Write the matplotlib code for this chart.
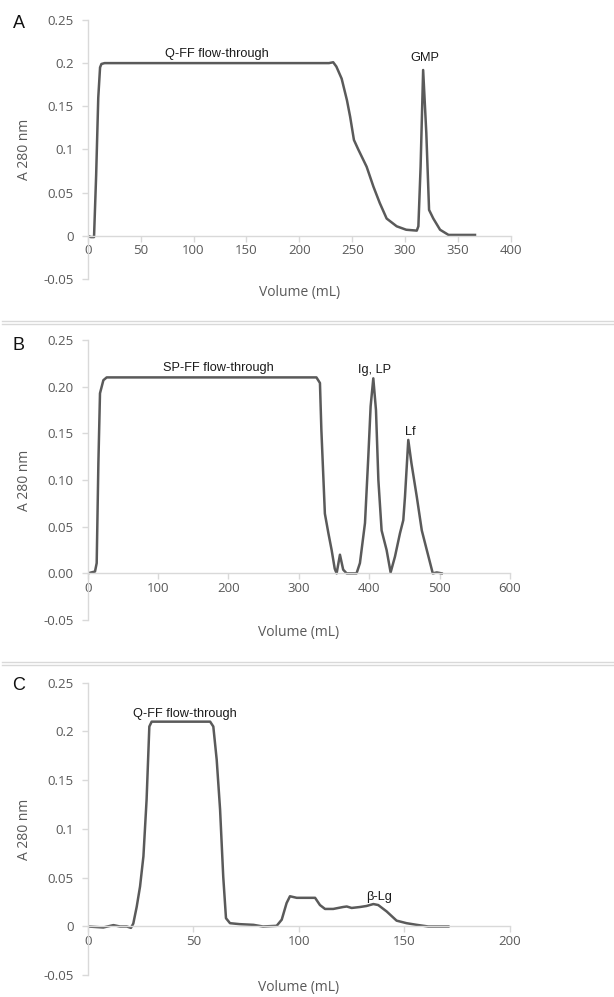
import matplotlib.pyplot as plt
from matplotlib.lines import Line2D

# panel A - Q-FF run
vol_a = [0, 3, 6, 8, 10, 11.7, 13, 16, 100, 200, 228, 232, 235, 240, 245, 248, 251.6,
         255.7, 263.6, 270, 276, 282.5, 292, 301, 311, 312.5, 314.6, 317, 320,
         322.6, 326.6, 333, 341, 366]
abs_a = [0, -0.0015, -0.0015, 0.07, 0.16, 0.195, 0.199, 0.2, 0.2, 0.2, 0.2, 0.201,
         0.196, 0.182, 0.157, 0.138, 0.111, 0.1, 0.08, 0.057, 0.038, 0.02, 0.011,
         0.007, 0.006, 0.011, 0.08, 0.192, 0.119, 0.03, 0.02, 0.007, 0.001, 0.001]

# panel B - SP-FF run
vol_b = [0, 10.4, 12.8, 15.2, 17.5, 22.3, 27, 325, 330, 332, 335, 337, 342, 346.6,
         351, 353.7, 358.4, 363, 367.9, 382, 386.8, 394, 398.7, 402, 405.8, 409.6,
         413, 417.6, 424.7, 430.4, 436.6, 443.7, 448.4, 450.8, 455.5, 460, 467.6,
         474.7, 481.8, 490.3, 496, 503]
abs_b = [0, 0.002, 0.011, 0.118, 0.193, 0.207, 0.21, 0.21, 0.204, 0.154, 0.1, 0.064,
         0.043, 0.025, 0.005, 0, 0.02, 0.004, 0, 0, 0.011, 0.054, 0.125, 0.179,
         0.209, 0.175, 0.1, 0.046, 0.025, 0.001, 0.018, 0.043, 0.057, 0.082, 0.143,
         0.118, 0.082, 0.046, 0.025, 0, 0.001, 0]

# panel C - Q-FF run (second column)
vol_c = [0, 7.4, 12.2, 15.3, 18.5, 20.5, 21.6, 23.2, 24.8, 26.4, 27.9, 29.2, 30.3, 58,
         59.5, 61.1, 62.7, 64.2, 65.5, 67.4, 72, 78.5, 83, 89.5, 91.9, 94.2, 95.8, 99,
         107.7, 110, 112.4, 116.3, 121, 122.7, 125, 129, 132, 135.3, 137.6, 141.6,
         146.3, 151, 155.8, 161.3, 170.8]
abs_c = [0, -0.001, 0.0014, 0, 0, -0.0014, 0.003, 0.02, 0.041, 0.072, 0.13, 0.205,
         0.21, 0.21, 0.205, 0.171, 0.12, 0.051, 0.0085, 0.0034, 0.0024, 0.0017, 0,
         0.0007, 0.007, 0.024, 0.031, 0.0294, 0.0294, 0.022, 0.018, 0.018, 0.02,
         0.0205, 0.019, 0.02, 0.021, 0.023, 0.022, 0.0154, 0.006, 0.0034, 0.0017, 0, 0]

panels = [
    dict(letter='A', x=vol_a, y=abs_a, xmax=400, xstep=50, yfmt='{:g}',
         rect=[0.1428, 0.7202, 0.6894, 0.2598], xlab_y=-0.054, lety=23,
         notes=[('Q-FF flow-through', 122, 0.210), ('GMP', 319, 0.2057)]),
    dict(letter='B', x=vol_b, y=abs_b, xmax=600, xstep=100, yfmt='{:.2f}',
         rect=[0.1428, 0.3781, 0.6878, 0.2808], xlab_y=-0.046, lety=345,
         notes=[('SP-FF flow-through', 185, 0.2203), ('Ig, LP', 407, 0.2178),
                ('Lf', 458, 0.1517)]),
    dict(letter='C', x=vol_c, y=abs_c, xmax=200, xstep=50, yfmt='{:g}',
         rect=[0.1428, 0.0218, 0.6878, 0.2935], xlab_y=-0.043, lety=685,
         notes=[('Q-FF flow-through', 46.2, 0.218), ('β-Lg', 138, 0.030)]),
]

yticks = [-0.05, 0, 0.05, 0.1, 0.15, 0.2, 0.25]
axis_grey = '#d9d9d9'
text_grey = '#595959'
tick_font = 'Open Sans'

fig = plt.figure(figsize=(6.14, 9.97), dpi=100)

for p in panels:
    ax = fig.add_axes(p['rect'])
    ax.plot(p['x'], p['y'], color='#5a5a5a', lw=1.8, solid_joinstyle='round')
    ax.set_xlim(0, p['xmax'])
    ax.set_ylim(-0.05, 0.25)
    ax.set_xticks(range(0, p['xmax'] + 1, p['xstep']))
    ax.set_yticks(yticks)
    ax.set_yticklabels([p['yfmt'].format(v) for v in yticks])
    for s in ['top', 'right']:
        ax.spines[s].set_visible(False)
    ax.spines['bottom'].set_position(('data', 0))
    for s in ['left', 'bottom']:
        ax.spines[s].set_color(axis_grey)
        ax.spines[s].set_linewidth(1.0)
    ax.tick_params(colors=axis_grey, labelcolor=text_grey, length=4, width=1.0,
                   labelsize=9.5)
    ax.tick_params(axis='y', pad=6)
    ax.tick_params(axis='x', pad=2)
    for lab in ax.get_xticklabels() + ax.get_yticklabels():
        lab.set_family(tick_font)
    ax.set_ylabel('A 280 nm', color=text_grey, fontsize=10, family=tick_font)
    ax.yaxis.set_label_coords(-0.132, 0.5)
    ax.set_xlabel('Volume (mL)', color=text_grey, fontsize=10, family=tick_font, va='center')
    ax.xaxis.set_label_coords(0.5, p['xlab_y'])
    for txt, nx, ny in p['notes']:
        ax.text(nx, ny, txt, ha='center', va='center', fontsize=9.2,
                family='Liberation Sans', color='#1a1a1a')
    fig.text(19 / 614, 1 - p['lety'] / 997, p['letter'], ha='center', va='center',
             fontsize=13, family='Liberation Sans', color='#111111')

# double grey rules between panels
for yy in [321, 323.5, 662, 665]:
    fig.add_artist(Line2D([0.003, 1.0], [1 - yy / 997, 1 - yy / 997],
                          color=axis_grey, lw=1.0, transform=fig.transFigure))

fig.savefig('out.png', dpi=100)
